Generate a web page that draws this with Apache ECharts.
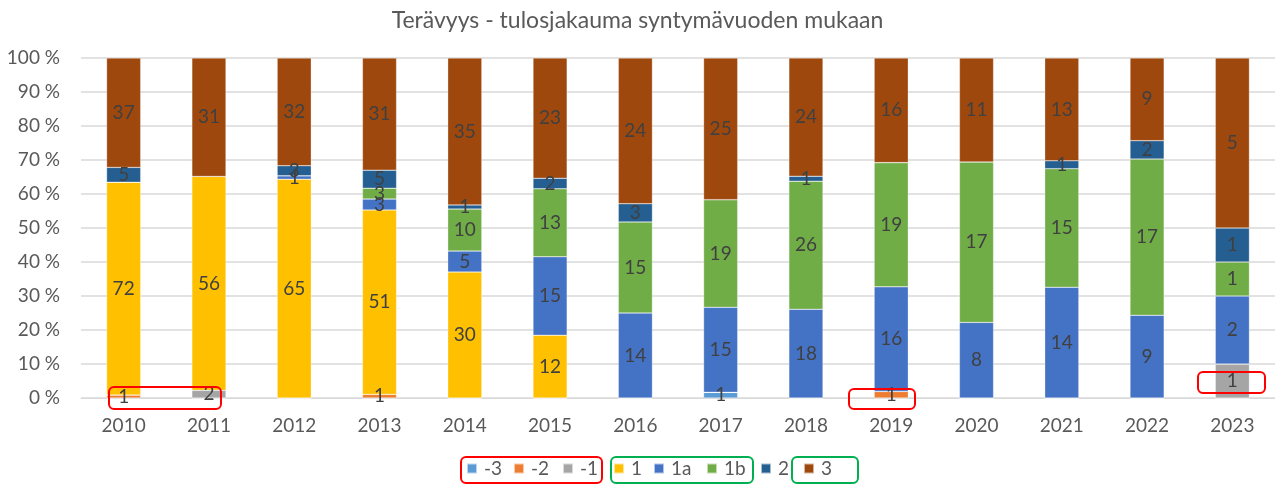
<!DOCTYPE html>
<html lang="fi">
<head>
    <meta charset="UTF-8">
    <title>Terävyys</title>
    <style>
        html, body { margin: 0; padding: 0; background: #fff; }
        #chart { width: 1275px; height: 484px; }
    </style>
</head>
<body>
<div id="chart"></div>
<script src="https://cdn.jsdelivr.net/npm/echarts@6/dist/echarts.min.js"></script>
<script>
    var years = ['2010', '2011', '2012', '2013', '2014', '2015', '2016', '2017', '2018', '2019', '2020', '2021', '2022', '2023'];
    var seriesNames = ['-3', '-2', '-1', '1', '1a', '1b', '2', '3'];
    var seriesColors = ['#5B9BD5', '#ED7D31', '#A5A5A5', '#FFC000', '#4472C4', '#70AD47', '#255E91', '#9E480E'];

    // counts per class, per year
    var cntM3 = [0, 0, 0, 0, 0, 0, 0, 1, 0, 0, 0, 0, 0, 0];
    var cntM2 = [1, 0, 0, 1, 0, 0, 0, 0, 0, 1, 0, 0, 0, 0];
    var cntM1 = [0, 2, 0, 0, 0, 0, 0, 0, 0, 0, 0, 0, 0, 1];
    var cnt1 = [72, 56, 65, 51, 30, 12, 0, 0, 0, 0, 0, 0, 0, 0];
    var cnt1a = [0, 0, 1, 3, 5, 15, 14, 15, 18, 16, 8, 14, 9, 2];
    var cnt1b = [0, 0, 0, 3, 10, 13, 15, 19, 26, 19, 17, 15, 17, 1];
    var cnt2 = [5, 0, 3, 5, 1, 2, 3, 0, 1, 0, 0, 1, 2, 1];
    var cnt3 = [37, 31, 32, 31, 35, 23, 24, 25, 24, 16, 11, 13, 9, 5];

    var yTicks = [0, 10, 20, 30, 40, 50, 60, 70, 80, 90, 100];

    var counts = [cntM3, cntM2, cntM1, cnt1, cnt1a, cnt1b, cnt2, cnt3];
    var totals = years.map(function (y, i) {
        var s = 0;
        counts.forEach(function (c) { s += c[i]; });
        return s;
    });

    var font = 'Lato, "Open Sans", sans-serif';

    var series = seriesNames.map(function (name, k) {
        return {
            name: name,
            type: 'bar',
            stack: 'all',
            barWidth: '40%',
            itemStyle: { color: seriesColors[k], borderColor: 'rgba(255,255,255,0.6)', borderWidth: 0.5 },
            label: {
                show: true,
                position: 'inside',
                color: '#404040',
                fontSize: 19,
                fontFamily: font,
                formatter: function (p) { return p.data.count; }
            },
            data: counts[k].map(function (c, i) {
                if (!c) return { value: 0, count: '', label: { show: false } };
                return { value: c / totals[i] * 100, count: c };
            })
        };
    });

    // one legend per item so the spacing follows the original
    var legendLeft = [466, 513, 562, 613, 653, 706, 760, 803];
    var legends = seriesNames.map(function (name, k) {
        return {
            data: [name],
            top: 459,
            left: legendLeft[k],
            padding: 0,
            itemWidth: 10,
            itemHeight: 10,
            icon: 'rect',
            textStyle: { color: '#595959', fontSize: 19, fontFamily: font, padding: [0, 0, 0, 2] }
        };
    });

    // annotation boxes drawn over the chart
    function box(x, y, w, h, color) {
        return {
            type: 'rect',
            shape: { x: x, y: y, width: w, height: h, r: 5 },
            style: { fill: 'none', stroke: color, lineWidth: 2 },
            z: 100
        };
    }

    var chart = echarts.init(document.getElementById('chart'));
    var option = {
        animation: false,
        title: {
            text: 'Terävyys - tulosjakauma syntymävuoden mukaan',
            left: 'center',
            top: 4,
            textStyle: { color: '#595959', fontSize: 23, fontWeight: 'normal', fontFamily: font }
        },
        legend: legends,
        grid: { left: 81, right: 0, top: 58, bottom: 86 },
        xAxis: {
            type: 'category',
            data: years,
            axisLine: { lineStyle: { color: '#D9D9D9' } },
            axisTick: { show: false },
            axisLabel: { color: '#595959', fontSize: 19, fontFamily: font, margin: 18 }
        },
        yAxis: {
            type: 'value',
            min: yTicks[0],
            max: yTicks[yTicks.length - 1],
            interval: 10,
            axisLine: { show: false },
            axisTick: { show: false },
            splitLine: { lineStyle: { color: '#D9D9D9', width: 1.5 } },
            axisLabel: { color: '#595959', fontSize: 19, fontFamily: font, margin: 21, formatter: '{value} %' }
        },
        series: series,
        graphic: [
            box(109, 387, 112, 22, '#FF0000'),
            box(849, 389, 66, 20, '#FF0000'),
            box(1198, 372, 67, 21, '#FF0000'),
            box(461, 457, 141, 26, '#FF0000'),
            box(611, 457, 142, 26, '#00B050'),
            box(792, 457, 66, 26, '#00B050')
        ]
    };
    chart.setOption(option);
</script>
</body>
</html>
